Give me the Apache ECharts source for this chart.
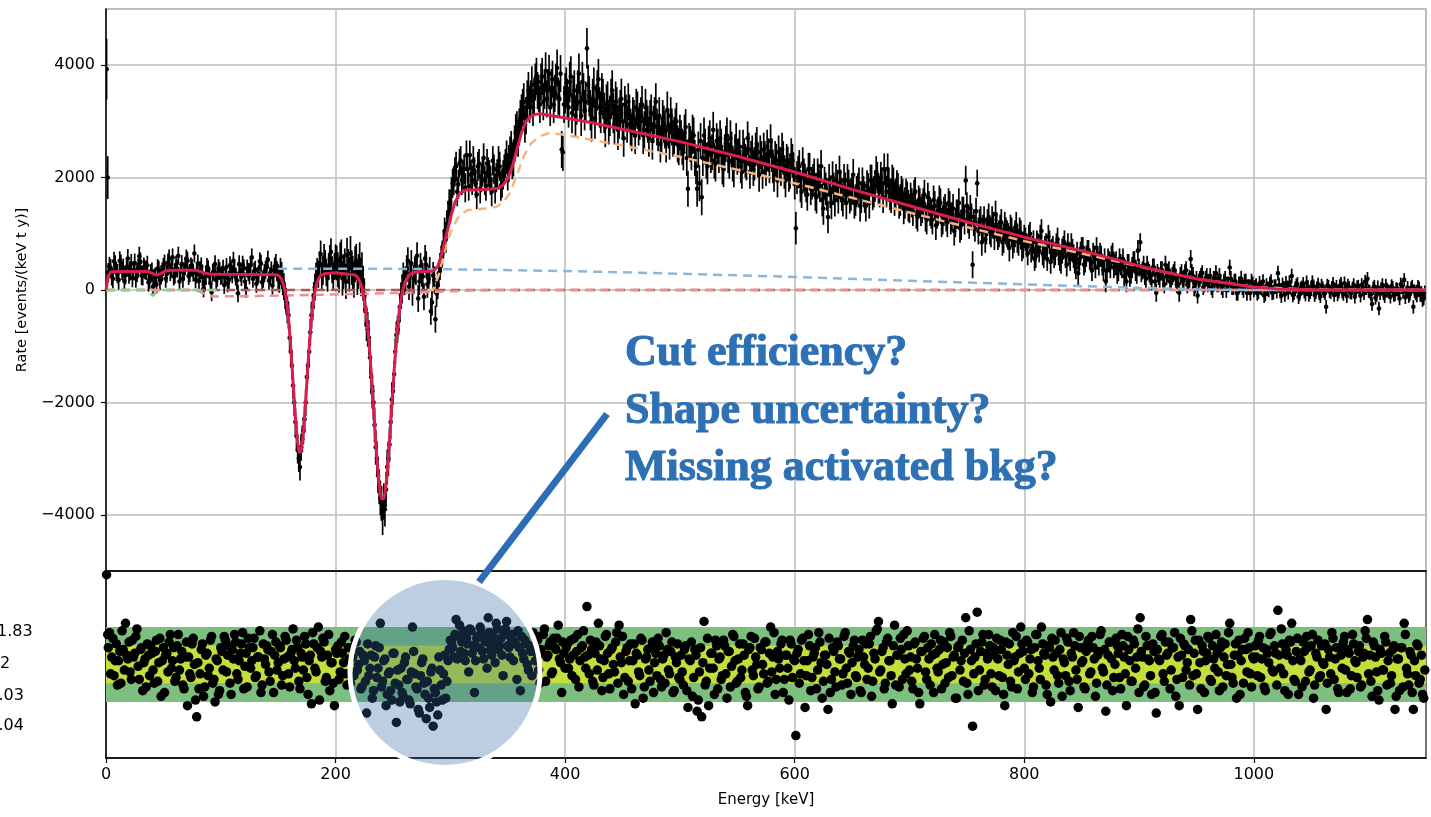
<!DOCTYPE html>
<html><head><meta charset="utf-8">
<script src="https://cdn.jsdelivr.net/npm/echarts@6/dist/echarts.min.js"></script>
<style>html,body{margin:0;padding:0;background:#fff;}#c{width:1431px;height:817px;}</style>
</head><body><div id="c"></div>
<script>
// ---------- DATA ----------
// two interleaved sets of 2 keV bins: odd-keV centres (A) and even-keV centres (B)
const binStartA = 3, binStartB = 2, binWidth = 2;
// measured rate, events/(keV t y) — set A (3,5,7,... keV)
const rate_0_100 = [420,250,510,330,180,460,390,270,560,340,220,480,310,600,260,410,350,140,290,60,230,380,170,320,470,290,560,380,240,450,610,330,200,420,520,300,390,650,280,160,420,30,250,370,120,310,460,220,340];
const rate_100_200 = [270,90,410,180,350,520,240,-60,310,450,150,380,260,580,330,110,290,470,200,360,540,250,80,420,310,190,260,60,-200,-450,-1100,-1700,-2350,-2850,-3150,-2650,-2300,-1550,-1100,-450,-100,250,280,640,330,470,210,560,360,420];
const rate_200_300 = [480,260,590,330,150,420,650,300,470,220,540,360,-100,-600,-850,-1550,-2000,-2800,-3300,-3700,-4050,-3900,-3150,-2750,-1950,-1500,-800,-550,-100,250,180,520,280,-40,360,610,150,300,-120,450,200,-380,260,-520,80,420,640,1050,1180,1550];
const rate_300_400 = [1750,1950,2200,1880,2300,2050,1820,2150,2400,1950,2100,1700,2250,2000,2350,1850,2100,1950,2300,1800,2050,2200,1900,2150,2400,2250,2500,2350,2800,2700,3050,3250,2950,3400,3300,3650,3450,3800,3500,3700,3350,3900,3600,3250,3750,3500,3950,3400,2500,3300];
const rate_400_500 = [3600,3250,3800,3450,3100,3550,3350,3700,3200,4300,3450,3000,3600,3300,3750,3150,3400,2900,3350,3100,3550,2950,3250,3050,3400,2700,3150,3350,2900,3100,2750,3200,3000,3300,2850,3050,2700,3150,2950,3350,2800,2600,3050,2850,3200,2650,2900,2750,3000,2550];
const rate_500_600 = [2700,2450,2900,1800,2600,2800,2350,1800,1900,1650,2750,2300,2600,2400,2850,2250,2550,2700,2200,2450,2750,2300,2500,2150,2650,2400,2200,2550,2300,2700,2100,2450,2250,2600,2050,2350,2500,2150,2400,2650,2200,2350,1950,2250,2500,2100,2300,2050,2400,2150];
const rate_600_700 = [1100,2100,1850,2250,1950,1700,2150,1900,2050,1650,1950,2200,1450,1800,1300,1750,2000,1600,1850,2100,1700,1950,1550,1850,1700,2050,1600,1800,1500,1900,1650,1850,1550,1950,1750,2100,1800,2000,1650,1900,2150,1700,1950,1600,1850,1550,1750,1450,1700,1500];
const rate_700_800 = [1650,1400,1750,1300,1550,1450,1700,1250,1500,1350,1600,1150,1400,1550,1250,1450,1200,1500,1300,1050,1350,1550,1150,1400,1950,1250,1450,450,1100,1900,1200,850,1250,1050,1300,1000,1150,1350,950,1100,850,1150,1000,750,1050,900,1150,850,1000,800];
const rate_800_900 = [900,650,1000,750,550,850,700,1050,600,800,950,500,750,650,900,550,700,850,450,650,800,600,400,300,650,750,500,700,550,350,600,750,450,600,350,150,550,400,650,450,300,550,400,250,150,450,300,500,350,700];
const rate_900_1000 = [850,350,250,450,300,150,400,-50,250,350,200,450,300,150,250,350,100,-50,300,200,350,150,550,250,100,-100,200,300,100,250,150,50,200,300,100,150,0,200,100,400,50,150,-50,100,200,0,150,50,-50,100];
const rate_1000_1100 = [50,-60,120,30,-100,80,0,150,-40,60,300,-20,90,-80,40,130,250,-50,70,-120,20,100,-70,50,-30,140,-90,30,-60,80,-20,-300,60,-40,110,0,-80,70,-30,120,-110,40,-50,90,-10,60,-100,20,150,200];
const rate_1100_1150 = [-30,-250,60,-90,-330,20,-60,80,-20,-120,40,-80,10,-150,50,180,-40,-110,30,-300,-60,60,-90,-180,-40];
// measured rate — set B (2,4,6,... keV)
const rateB_0_100 = [310,380,200,450,290,520,350,160,400,280,470,340,210,390,500,250,360,440,190,320,210,100,350,270,410,200,490,320,580,270,380,150,460,330,560,250,420,310,190,470,350,230,130,410,260,-40,330,180,390,250];
const rateB_100_200 = [380,210,120,440,280,350,170,460,230,390,20,320,440,200,360,250,510,140,300,420,170,350,260,480,220,330,150,-100,-350,-850,-1350,-2000,-2600,-3000,-2800,-2500,-2000,-1350,-750,-300,50,330,450,250,580,310,420,680,240,500];
const rateB_200_300 = [360,540,210,430,620,280,400,170,510,330,200,120,-350,-700,-1200,-1800,-2400,-3000,-3500,-3800,-3750,-3550,-3000,-2350,-1800,-1100,-700,-300,0,150,380,60,470,210,330,-150,420,240,560,100,350,-220,180,-60,300,550,800,900,1350,1450];
const rateB_300_400 = [1900,2100,1750,2250,1950,2150,2400,1850,2050,2300,1900,2200,1800,2100,1950,2250,2050,1750,2150,2000,2300,1850,2050,2250,2100,2400,2300,2600,2850,2900,3150,3350,3100,3550,3400,3250,3700,3550,3300,3800,3550,3400,3850,3600,3300,3700,3450,3850,2450,3500];
const rateB_400_500 = [3400,3700,3150,3550,3300,3850,3100,3500,3350,3650,3200,3400,3050,3550,3250,3500,3150,3300,2950,3400,3150,3350,2850,3200,3000,3300,2950,3150,2800,3050,3250,2900,3100,2750,3250,2950,3050,2650,3100,2900,3100,2750,2950,2600,2850,3100,2700,2900,2600,2800];
const rateB_500_600 = [2550,2800,2350,2650,2450,2750,2200,2500,2650,2350,2550,2200,2700,2450,2300,2650,2400,2550,2150,2600,2400,2700,2250,2450,2350,2550,2100,2400,2250,2500,2350,2150,2500,2300,2450,2100,2350,2550,2200,2400,2050,2300,2450,2150,2350,1950,2250,2100,2300,1900];
const rateB_600_700 = [2000,2200,1750,2050,1850,2150,1800,1950,1700,2050,1850,1600,1900,1700,1950,1550,1800,1950,1650,1850,1600,1800,1950,1650,1800,1550,1750,1900,1650,1750,1500,1800,1950,1700,1850,2000,1750,1900,2150,1750,1850,1650,1900,1700,1800,1600,1700,1550,1650,1450];
const rateB_700_800 = [1550,1700,1350,1600,1400,1550,1300,1650,1400,1250,1500,1350,1600,1200,1400,1300,1550,1250,1450,1200,1350,1100,1400,1250,1500,1150,1300,1200,1400,1050,1250,1100,900,1200,1050,1250,950,1100,1000,1200,900,1050,950,1100,800,1000,900,1050,750,950];
const rateB_800_900 = [800,950,700,850,600,800,950,650,750,550,850,700,600,800,650,500,750,600,800,550,700,500,650,550,750,450,600,700,500,650,400,550,650,450,550,350,500,600,400,500,350,450,550,350,450,250,400,500,300,400];
const rateB_900_1000 = [300,450,200,350,250,400,150,300,200,350,100,250,350,150,300,200,100,250,150,300,100,200,300,50,200,150,250,50,200,100,250,0,150,100,250,50,150,0,100,200,50,150,-50,100,50,150,-50,50,150,0];
const rateB_1000_1100 = [80,-30,40,150,-70,20,110,-50,60,-20,90,-100,30,120,-40,50,-90,20,100,-60,40,-20,130,-80,10,70,-40,100,-110,30,-60,80,-20,40,-90,60,-30,110,-70,20,80,-40,30,-120,50,-10,90,-60,30,-20];
const rateB_1100_1150 = [-80,30,-140,50,-60,90,-110,10,-40,70,-90,20,-60,100,-30,-130,40,-70,60,-20,-100,30,-50,-150];
// error half-width per 50 keV block
const errBlockWidth = 50;
const errByBlock = [170,160,160,240,310,240,260,330,360,330,320,300,290,280,260,240,210,190,160,140,130,120,120];
// first two (sub-keV) bins
const edgeE = [0.5, 1.5];
const edgeRate = [3930, 2000];
const edgeErr = [540, 380];
const edgeResid = [4.8, 1.6];
// normalised residuals — set A
const resid_0_100 = [1.7,0.4,-0.6,1.1,0.2,-1.0,0.8,2.2,0.3,-0.4,1.3,0.6,1.9,-0.8,0.9,0.1,-1.2,0.5,1.0,-0.3,0.7,-0.9,1.4,0.2,-1.5,0.6,1.2,-0.2,0.9,-0.7,1.6,0.3,-1.1,0.4,-2.2,-0.5,1.1,0.0,-2.8,-1.3,0.8,-1.7,0.5,-0.6,1.3,-1.0,-2.0,0.2,-1.4];
const resid_100_200 = [0.7,1.5,-0.4,1.0,-1.6,0.3,1.2,-0.8,0.6,1.7,-0.1,-1.2,0.9,0.2,1.4,-0.6,0.4,-1.5,1.1,0.0,0.8,-0.9,1.6,0.5,-0.3,1.0,-1.1,0.3,1.3,-0.5,0.6,1.9,-0.2,0.9,-1.3,0.4,1.5,-0.7,0.2,-2.1,1.1,-0.4,2.0,0.7,1.4,-0.9,0.5,-1.4,0.1,-2.2];
const resid_200_300 = [0.6,-0.8,1.2,0.1,-0.5,0.9,-1.0,0.4,1.3,-0.3,0.7,-1.2,0.2,-2.6,-0.6,0.5,-1.4,1.0,-0.2,2.2,-0.9,0.3,-1.6,-0.4,-1.9,0.6,-3.1,-1.1,-0.2,-1.7,0.4,-0.8,-2.1,2.0,-0.5,-1.3,-2.6,0.1,-1.0,-2.9,-1.8,-0.4,-3.3,-1.5,-2.7,-0.3,-1.9,0.5,-0.9,0.8];
const resid_300_400 = [1.2,0.4,2.4,1.5,0.7,1.8,0.2,1.1,1.9,0.6,-1.5,1.4,0.9,1.7,0.3,1.2,2.5,0.8,1.5,0.1,1.9,1.0,0.5,1.6,2.3,0.9,1.4,0.2,1.1,1.8,-1.4,0.6,1.3,0.0,1.0,-0.6,0.7,1.5,-0.3,0.8,1.6,-0.9,0.5,1.2,-0.4,0.9,1.4,0.3,-1.5,0.6];
const resid_400_500 = [0.9,-0.2,1.3,0.5,-0.8,1.6,0.2,1.0,0.4,3.1,-0.5,0.8,-1.1,1.2,2.2,0.3,-0.7,1.5,0.6,-1.3,0.9,-0.4,1.7,2.1,0.1,-1.6,0.7,-0.9,1.1,0.2,-2.1,0.5,-0.6,1.3,-1.2,0.4,-0.3,0.9,-1.5,0.6,1.4,-0.8,0.3,-1.0,0.8,-0.5,1.2,-1.4,0.1,-0.7];
const resid_500_600 = [0.5,-1.1,1.0,-2.3,0.2,-1.7,0.8,-2.5,-0.4,-2.8,2.3,-0.9,-2.2,0.6,-0.2,1.3,-1.3,0.4,-0.6,1.0,-1.8,0.7,-0.1,1.5,-1.0,0.3,-0.7,1.1,-1.5,-2.2,0.9,-0.3,1.4,0.0,-1.2,0.8,-0.5,1.2,-0.9,2.0,0.4,-1.6,0.7,-0.2,1.3,-0.8,0.5,-1.9,1.1,0.3];
const resid_600_700 = [-3.8,0.8,-0.5,1.4,-2.3,0.2,1.0,-0.7,0.6,-1.3,1.7,0.1,-0.9,0.5,-2.4,-1.5,0.9,-0.4,1.2,0.3,-1.1,1.5,-0.2,0.7,-1.6,1.0,-0.6,0.4,-1.4,1.3,0.0,-0.8,1.1,-1.7,0.6,1.8,2.3,-0.3,0.9,-1.0,1.4,0.2,-2.1,2.1,0.5,-1.2,0.8,1.6,-0.5,1.0];
const resid_700_800 = [0.4,-1.3,1.2,-0.2,-2.1,0.7,1.5,-0.8,0.3,1.1,-1.5,0.6,-0.4,1.3,0.0,-1.0,0.9,1.7,-0.6,0.5,-1.8,1.0,0.2,-0.9,2.5,-1.6,0.8,-3.3,0.4,2.8,-0.3,1.2,-1.1,0.6,1.6,-0.5,0.9,-1.4,0.3,1.3,-0.7,-2.2,0.5,1.1,-1.2,0.2,1.5,-0.4,2.0,0.7];
const resid_800_900 = [-0.8,1.2,0.3,-1.5,0.9,1.6,-0.2,2.0,0.6,-1.1,1.0,-2.0,0.4,1.3,-0.6,0.8,-1.7,0.1,1.4,-0.9,0.6,1.7,-0.3,-2.3,0.9,0.2,-1.3,1.1,-0.5,1.5,0.3,-1.0,0.7,1.8,-0.4,-2.5,0.5,1.2,-1.4,0.0,1.0,-0.7,1.6,0.4,-2.2,0.8,-0.9,1.3,-0.2,1.9];
const resid_900_1000 = [2.5,0.4,-1.1,1.0,0.2,-1.6,0.7,-2.6,0.3,1.5,-0.5,1.2,0.6,-1.3,0.9,1.7,-0.8,-2.2,0.5,1.1,-0.3,0.8,2.4,-0.6,1.3,-2.4,0.1,1.0,-1.5,0.6,1.4,-0.9,0.3,1.6,-0.4,0.9,-1.2,1.1,0.0,2.2,-0.7,0.5,-1.8,1.3,0.2,-1.0,0.8,1.7,-0.5,0.4];
const resid_1000_1100 = [1.0,-0.6,1.5,0.3,-1.2,0.8,0.1,1.7,-0.4,0.6,2.9,-0.2,1.1,-1.4,0.5,1.3,2.2,-0.8,0.7,-1.6,0.2,1.2,-0.9,0.9,-0.3,1.6,-1.1,0.4,-0.7,1.0,0.0,-2.4,0.8,-0.5,1.4,0.3,-1.3,0.9,-0.2,1.5,-1.5,0.6,-0.6,1.1,0.1,0.7,-1.2,0.4,1.8,2.4];
const resid_1100_1150 = [0.5,-1.7,1.0,-0.4,-1.9,0.6,-0.3,1.2,0.2,-1.0,0.8,-2.4,0.3,-1.4,0.9,2.2,-0.2,-1.1,0.5,-2.4,-0.6,1.0,-0.8,-1.6,-0.3];
// normalised residuals — set B
const residB_0_100 = [0.9,-0.5,1.4,0.2,-1.1,0.7,1.8,-0.3,0.5,1.2,-0.8,0.4,1.5,-0.1,0.8,-1.4,0.3,1.1,-0.6,0.6,-1.0,1.3,0.1,-1.7,0.9,0.5,-0.4,1.6,0.2,-0.9,1.0,-0.3,0.7,-1.3,1.2,0.4,-0.7,1.4,-1.9,0.1,-0.5,1.1,-1.2,0.6,-0.2,1.5,-0.8,0.3,-1.6,0.9];
const residB_100_200 = [-0.3,1.3,0.5,-1.0,0.8,1.6,-0.5,0.2,1.1,-1.3,0.6,1.4,-0.2,0.9,-0.7,0.4,1.8,-1.1,0.3,1.0,-0.4,0.7,-1.5,1.2,0.1,0.9,-0.6,1.5,0.4,-1.2,0.8,0.2,1.3,-0.9,0.6,-0.3,1.1,-1.6,0.5,1.7,-0.2,0.9,-1.9,0.4,1.2,-0.7,1.6,0.1,-1.0,0.8];
const residB_200_300 = [1.0,-0.4,0.6,1.5,-1.1,0.3,0.9,-0.6,1.2,0.0,-1.3,0.5,-0.9,1.1,-0.2,-1.8,0.4,-0.7,0.9,-1.2,0.2,-2.2,-0.5,-1.4,0.6,-1.0,-0.3,-2.0,-1.5,0.1,-0.8,-1.9,-0.4,0.7,-1.2,-2.4,-0.6,0.3,-1.6,-0.9,-2.3,-0.2,-1.3,-2.0,0.4,-1.1,-0.5,-1.8,0.2,1.3];
const residB_300_400 = [0.9,1.6,0.3,2.1,1.2,0.6,1.4,-0.4,1.8,1.0,0.2,1.5,2.0,0.7,1.3,-0.2,1.7,0.5,1.1,2.2,0.8,1.4,-0.6,1.9,1.0,0.4,1.6,1.2,-0.8,0.9,1.5,0.3,1.1,-0.3,0.7,1.7,0.2,1.3,-1.0,0.6,1.9,0.4,1.0,-0.5,1.4,0.8,2.1,0.1,1.2,-0.2];
const residB_400_500 = [1.1,0.3,-0.6,1.4,0.7,-1.2,0.9,1.8,-0.2,0.5,1.3,-0.9,0.6,-0.3,1.0,-1.4,0.2,1.6,-0.5,0.8,0.0,1.2,-1.0,0.4,1.5,-0.7,0.9,0.2,-1.3,1.1,0.6,-0.4,1.4,-1.8,0.3,0.8,-0.9,1.2,0.1,-0.6,1.0,-1.2,0.5,1.7,-0.3,0.7,-1.5,0.4,1.1,-0.8];
const residB_500_600 = [-0.4,0.8,-1.4,0.3,1.2,-0.7,0.5,-1.9,0.9,0.1,-1.1,1.4,-0.2,0.6,-1.6,1.0,0.3,-0.8,1.3,-0.5,0.7,-1.2,1.6,0.2,-0.9,1.1,-0.3,0.5,-1.7,0.8,1.5,-0.6,0.4,-1.3,0.9,0.0,1.2,-1.0,0.6,-0.4,1.7,-0.8,0.3,1.1,-1.5,0.5,-0.2,1.3,-0.7,0.2];
const residB_600_700 = [0.6,-1.0,1.3,0.2,-0.6,1.6,-1.4,0.4,0.9,-0.3,1.2,-1.8,0.5,0.0,1.4,-0.8,0.7,-1.2,1.0,0.3,-0.5,1.7,-1.0,0.6,0.1,1.3,-0.7,0.8,-1.5,0.4,1.1,-0.2,1.5,-0.9,0.3,1.9,-0.4,0.7,-1.3,1.2,0.2,-0.6,1.0,-1.1,0.5,1.4,-0.8,0.3,1.8,-0.3];
const residB_700_800 = [-0.9,1.1,0.3,-1.5,0.7,1.4,-0.4,0.9,-1.1,0.5,1.6,-0.2,0.8,-1.3,1.2,0.1,-0.7,1.5,0.4,-1.8,0.9,-0.3,1.3,0.6,-1.0,1.8,0.2,-0.5,1.1,-1.4,0.7,1.6,-0.8,0.3,1.0,-1.2,0.5,1.4,-0.6,0.8,-1.6,1.2,0.0,-0.9,1.7,0.4,-1.3,0.6,1.1,-0.2];
const residB_800_900 = [1.3,-0.5,0.8,-1.2,1.6,0.2,-0.8,1.1,0.5,-1.6,0.9,1.4,-0.3,0.6,-1.0,1.7,0.3,-0.6,1.2,-1.4,0.4,1.0,-0.8,1.5,0.1,-1.2,0.7,1.3,-0.4,0.9,-1.7,0.5,1.6,-0.2,0.8,-1.1,1.2,0.3,-0.7,1.4,0.6,-1.3,1.0,-0.5,1.5,0.2,-0.9,1.1,0.4,-1.5];
const residB_900_1000 = [0.7,-1.2,1.5,0.3,-0.6,1.1,-1.5,0.8,0.2,1.6,-0.9,0.5,1.2,-0.3,0.9,-1.7,0.4,1.4,-0.7,1.0,0.1,-1.1,1.8,0.6,-0.5,1.3,-1.3,0.7,0.2,1.5,-0.8,1.0,-0.2,0.6,-1.4,1.2,0.4,-0.6,1.7,0.0,-1.0,1.1,0.5,-1.6,0.8,1.4,-0.4,0.9,-1.2,0.3];
const residB_1000_1100 = [0.4,1.3,-0.7,0.9,-1.4,0.6,1.6,-0.3,1.0,-1.1,0.5,1.9,-0.5,0.8,-1.6,1.2,0.2,-0.9,1.4,0.3,-1.2,0.7,1.5,-0.4,1.0,-1.8,0.6,1.3,-0.6,0.1,1.1,-1.0,0.4,1.7,-0.8,0.9,-1.5,0.5,1.2,-0.3,0.8,-1.3,1.6,0.2,-0.7,1.0,-1.1,0.6,1.4,-0.5];
const residB_1100_1150 = [-0.9,1.2,0.4,-1.4,0.8,-0.3,1.5,-1.1,0.6,-0.6,1.0,-1.7,0.3,0.9,-1.2,1.6,-0.5,0.7,-1.5,0.2,1.1,-1.0,0.5,-1.8];
// fit curves (energy, value)
const totalE = [0,2,4,10,36,40,44,48,52,60,78,82,86,90,100,149,151,153,155,156,157,158,159,160,161,162,163,164,165,166,167,168,169,170,171,172,173,174,175,176,177,178,179,180,181,182,183,185,187,190,200,217,219,221,223,224,225,226,227,228,229,230,231,232,233,234,235,236,237,238,239,240,241,242,243,244,245,246,247,248,249,250,251,252,253,254,255,256,257,258,259,261,263,265,270,285,289,292,295,298,301,304,308,314,330,342,346,350,354,358,362,366,370,374,378,395,420,450,500,550,600,650,700,750,800,850,880,900,920,950,980,1000,1020,1050,1100,1150];
const totalFit = [0,250,320,330,330,300,265,295,340,350,350,330,300,285,280,270,245,189,71,-24,-150,-312,-513,-753,-1027,-1329,-1649,-1968,-2267,-2526,-2728,-2856,-2900,-2856,-2728,-2526,-2267,-1968,-1649,-1329,-1027,-753,-513,-312,-150,-24,71,195,255,290,305,268,231,159,34,-57,-171,-312,-480,-679,-907,-1165,-1449,-1750,-2065,-2383,-2693,-2982,-3241,-3455,-3616,-3716,-3750,-3716,-3616,-3455,-3241,-2982,-2693,-2383,-2065,-1750,-1449,-1165,-907,-679,-480,-312,-171,-57,34,159,231,280,320,340,420,600,850,1100,1350,1560,1720,1780,1790,1810,1870,1980,2200,2500,2800,3000,3090,3125,3135,3080,2990,2860,2640,2380,2100,1790,1500,1210,940,700,540,430,330,200,110,55,20,5,0,0];
const bkgE = [150,250,300,400,500,600,700,800,900,950,1000,1150];
const bkgFit = [376,376,368,338,290,232,165,100,38,12,0,0];
const contE = [280,285,290,296,302,308,315,330,340,346,352,358,364,370,378,386,400,450,500,550,600,650,700,750,800,850,900,950,1000,1050,1150];
const contFit = [0,0,280,780,1120,1330,1420,1450,1480,1560,1730,2050,2380,2600,2740,2790,2760,2570,2370,2140,1900,1640,1380,1120,870,650,420,200,55,5,0];
const negE = [0,78,84,90,96,150,200,250,290,320,350,1150];
const negFit = [0,0,-50,-105,-115,-100,-80,-55,-30,-5,0,0];
const zeroE = [0,1150];
const zeroFit = [0,0];
const lowE = [0,33,37,41,44,47,100];
const lowFit = [0,0,-40,-100,-40,0,0];
const yTicks = [-4000,-2000,0,2000,4000];
const xTicks = [0,200,400,600,800,1000];
const residSideLabels = ['1.83','2','.03','.04'];
const notes = ['Cut efficiency?','Shape uncertainty?','Missing activated bkg?'];

// ---------- BUILD ----------
const ratesA = [].concat(rate_0_100,rate_100_200,rate_200_300,rate_300_400,rate_400_500,rate_500_600,rate_600_700,rate_700_800,rate_800_900,rate_900_1000,rate_1000_1100,rate_1100_1150);
const ratesB = [].concat(rateB_0_100,rateB_100_200,rateB_200_300,rateB_300_400,rateB_400_500,rateB_500_600,rateB_600_700,rateB_700_800,rateB_800_900,rateB_900_1000,rateB_1000_1100,rateB_1100_1150);
const residsA = [].concat(resid_0_100,resid_100_200,resid_200_300,resid_300_400,resid_400_500,resid_500_600,resid_600_700,resid_700_800,resid_800_900,resid_900_1000,resid_1000_1100,resid_1100_1150);
const residsB = [].concat(residB_0_100,residB_100_200,residB_200_300,residB_300_400,residB_400_500,residB_500_600,residB_600_700,residB_700_800,residB_800_900,residB_900_1000,residB_1000_1100,residB_1100_1150);
const binsA = ratesA.map((_, i) => binStartA + binWidth * i);
const binsB = ratesB.map((_, i) => binStartB + binWidth * i);
const errAt = e => errByBlock[Math.min(errByBlock.length - 1, Math.floor(e / errBlockWidth))];
const pts = edgeE.map((e, i) => [e, edgeRate[i], edgeErr[i]])
  .concat(binsA.map((e, i) => [e, ratesA[i], errAt(e)]))
  .concat(binsB.map((e, i) => [e, ratesB[i], errAt(e)]));
const resPts = edgeE.map((e, i) => [e, edgeResid[i]])
  .concat(binsA.map((e, i) => [e, residsA[i]]))
  .concat(binsB.map((e, i) => [e, residsB[i]]));
const zip = (a, b) => a.map((x, i) => [x, b[i]]);

const FONT = '"DejaVu Sans", sans-serif';
const minus = v => String(v).replace('-', '\u2212');

function renderErr(params, api) {
  const x = api.value(0), y = api.value(1), e = api.value(2);
  const c = api.coord([x, y]), hi = api.coord([x, y + e]), lo = api.coord([x, y - e]);
  return { type: 'group', children: [
    { type: 'line', shape: { x1: c[0], y1: hi[1], x2: c[0], y2: lo[1] }, style: { stroke: '#000', lineWidth: 1.7 } },
    { type: 'circle', shape: { cx: c[0], cy: c[1], r: 2.3 }, style: { fill: '#000' } }
  ]};
}
function fitLine(name, data, color, width, dashed, z) {
  return { name, type: 'line', xAxisIndex: 0, yAxisIndex: 0, data, showSymbol: false, symbol: 'none', z,
    lineStyle: { color, width, type: dashed ? [9, 6] : 'solid' }, silent: true, clip: true };
}
const noteStyle = t => ({ text: t, font: 'bold 44px "Liberation Serif"', fill: '#2e70b4', stroke: '#2e70b4', lineWidth: 1.1, verticalAlign: 'middle' });

const chart = echarts.init(document.getElementById('c'), null, { renderer: 'canvas' });
const gridLine = { show: true, lineStyle: { color: '#bcbcbc', width: 1.5 } };
chart.setOption({
  animation: false,
  backgroundColor: '#fff',
  grid: [
    { left: 106, top: 9, width: 1320, height: 562, show: true, borderColor: '#a8a8a8', borderWidth: 1.5, containLabel: false, outerBoundsMode: 'none' },
    { left: 106, top: 571, width: 1320, height: 187, show: true, borderColor: '#444', borderWidth: 1.5, containLabel: false, outerBoundsMode: 'none' }
  ],
  xAxis: [
    { gridIndex: 0, type: 'value', min: 0, max: 1150,
      axisLine: { show: true, onZero: false, lineStyle: { color: '#000', width: 1.5 } },
      axisTick: { show: false, customValues: xTicks }, axisLabel: { show: false, customValues: xTicks }, splitLine: gridLine },
    { gridIndex: 1, type: 'value', min: 0, max: 1150,
      name: 'Energy [keV]', nameLocation: 'middle', nameGap: 35,
      nameTextStyle: { fontFamily: FONT, fontSize: 15, color: '#000' },
      axisLine: { show: true, onZero: false, lineStyle: { color: '#000', width: 1.5 } },
      axisTick: { show: true, length: 5, customValues: xTicks, lineStyle: { color: '#000', width: 1.2 } },
      axisLabel: { fontFamily: FONT, fontSize: 16, color: '#000', margin: 9, customValues: xTicks, formatter: v => String(v) },
      splitLine: gridLine }
  ],
  yAxis: [
    { gridIndex: 0, type: 'value', min: -5000, max: 5000,
      name: 'Rate [events/(keV t y)]', nameLocation: 'middle', nameGap: 76, nameRotate: 90,
      nameTextStyle: { fontFamily: FONT, fontSize: 14.5, color: '#000' },
      axisLine: { show: true, onZero: false, lineStyle: { color: '#000', width: 1.5 } },
      axisTick: { show: true, length: 5, customValues: yTicks, lineStyle: { color: '#000', width: 1.2 } },
      axisLabel: { fontFamily: FONT, fontSize: 16, color: '#000', margin: 11, customValues: yTicks, formatter: minus },
      splitLine: gridLine },
    { gridIndex: 1, type: 'value', min: -5, max: 5,
      axisLine: { show: true, onZero: false, lineStyle: { color: '#000', width: 1.5 } },
      axisTick: { show: false }, axisLabel: { show: false }, splitLine: { show: false } }
  ],
  series: [
    { name: 'data', type: 'custom', xAxisIndex: 0, yAxisIndex: 0, data: pts, renderItem: renderErr, clip: true, z: 2, silent: true },
    fitLine('zero', zip(zeroE, zeroFit), '#a9585a', 2.5, true, 3),
    fitLine('neg', zip(negE, negFit), '#ee9090', 2.5, true, 3),
    fitLine('low', zip(lowE, lowFit), '#8fd08f', 2.5, true, 3),
    fitLine('bkg', zip(bkgE, bkgFit), '#8ab7dc', 2.5, true, 3),
    fitLine('cont', zip(contE, contFit), '#f6b47e', 2.5, true, 3),
    fitLine('total', zip(totalE, totalFit), '#d81e4e', 3, false, 5),
    { name: 'bands', type: 'scatter', xAxisIndex: 1, yAxisIndex: 1, data: [], z: 1, silent: true,
      markArea: { silent: true, data: [
        [{ xAxis: 0, yAxis: -2, itemStyle: { color: '#7dbf7e' } }, { xAxis: 1150, yAxis: 2 }],
        [{ xAxis: 0, yAxis: -1, itemStyle: { color: '#c4df3b' } }, { xAxis: 1150, yAxis: 1 }]
      ] } },
    { name: 'resid', type: 'scatter', xAxisIndex: 1, yAxisIndex: 1, data: resPts, symbolSize: 9.5,
      itemStyle: { color: '#000', opacity: 1 }, clip: true, z: 3, silent: true, large: false }
  ],
  graphic: [
    { type: 'text', x: -3, y: 632, z: 50, style: { text: residSideLabels[0], font: '16px "DejaVu Sans"', fill: '#000', verticalAlign: 'middle' } },
    { type: 'text', x: 0, y: 664, z: 50, style: { text: residSideLabels[1], font: '16px "DejaVu Sans"', fill: '#000', verticalAlign: 'middle' } },
    { type: 'text', x: -1.5, y: 696, z: 50, style: { text: residSideLabels[2], font: '16px "DejaVu Sans"', fill: '#000', verticalAlign: 'middle' } },
    { type: 'text', x: -1.5, y: 726, z: 50, style: { text: residSideLabels[3], font: '16px "DejaVu Sans"', fill: '#000', verticalAlign: 'middle' } },
    { type: 'circle', z: 100, shape: { cx: 445, cy: 672.5, r: 95 }, style: { fill: 'rgba(48,103,155,0.32)', stroke: '#fff', lineWidth: 5 } },
    { type: 'line', z: 101, shape: { x1: 479, y1: 582, x2: 607, y2: 414 }, style: { stroke: '#2d6db5', lineWidth: 7 } },
    { type: 'text', x: 625, y: 354, z: 101, style: noteStyle(notes[0]) },
    { type: 'text', x: 625, y: 412, z: 101, style: noteStyle(notes[1]) },
    { type: 'text', x: 625, y: 469, z: 101, style: noteStyle(notes[2]) }
  ]
});
</script>
</body></html>
